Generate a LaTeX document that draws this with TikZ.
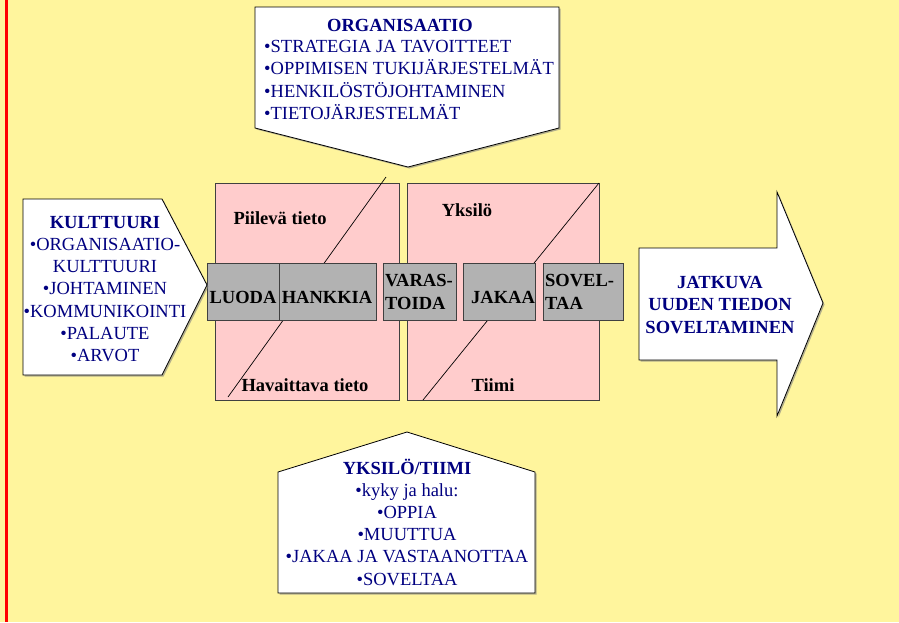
\documentclass[tikz,border=0pt]{standalone}
\usepackage{fontspec}
\setmainfont{Liberation Serif}
\usetikzlibrary{shadows}
\definecolor{bgyellow}{HTML}{FFF59D}
\definecolor{pinkbox}{HTML}{FFCCCC}
\definecolor{greybox}{HTML}{B2B2B2}
\definecolor{navytext}{HTML}{000080}
\definecolor{edgegrey}{HTML}{404040}
\tikzset{
  txt/.style={inner sep=0pt, font=\fontsize{18.5}{22.2}\selectfont},
  navy/.style={txt, text=navytext},
  lbl/.style={txt, text=black, font=\fontsize{18.5}{23}\selectfont\bfseries},
  whiteshape/.style={draw=black, line width=0.8pt, fill=white,
    drop shadow={shadow xshift=1.5pt, shadow yshift=-1.5pt, opacity=0.6, fill=gray}},
  pinkrect/.style={draw=edgegrey, line width=0.8pt, fill=pinkbox},
  greyrect/.style={draw=edgegrey, line width=0.8pt, fill=greybox},
  diag/.style={draw=black, line width=0.7pt}
}
\begin{document}
\begin{tikzpicture}[x=1pt,y=-1pt]
\useasboundingbox (0,0) rectangle (899,622);
\fill[bgyellow] (0,0) rectangle (899,622);
\fill[red] (5,0) rectangle (8,622);

% pink boxes
\draw[pinkrect] (215,183) rectangle (399,400);
\draw[pinkrect] (407,183) rectangle (599,400);
\draw[diag] (228,397) -- (386,177);
\draw[diag] (423,400) -- (599,183);

% labels in pink boxes
\node[lbl] (piil) at (280,218) {Piilevä tieto};
\node[lbl] (hav) at (305,385) {Havaittava tieto};
\node[lbl] (yks) at (467,210) {Yksilö};
\node[lbl] (tiimi) at (493,385) {Tiimi};

% grey boxes
\draw[greyrect] (207,263) rectangle (279,320);
\draw[greyrect] (279,263) rectangle (376,320);
\draw[greyrect] (383,263) rectangle (456,320);
\draw[greyrect] (463,263) rectangle (535,320);
\draw[greyrect] (543,263) rectangle (623,320);
\node[lbl] (luoda) at (243,297) {LUODA};
\node[lbl] (hankkia) at (327,297) {HANKKIA};
\node[lbl, align=left, anchor=west] (varas) at (385,292) {VARAS-\\TOIDA};
\node[lbl] (jakaa) at (503,297) {JAKAA};
\node[lbl, align=left, anchor=west] (sovel) at (545,292) {SOVEL-\\TAA};

% top pentagon (ORGANISAATIO)
\path[whiteshape] (255,7) -- (559,7) -- (559,128) -- (408,167) -- (255,128) -- cycle;
\node[navy, font=\fontsize{18.5}{22.2}\selectfont\bfseries] (org) at (400,25) {ORGANISAATIO};
\node[navy, align=left, anchor=west] (orglist) at (264,80) {•STRATEGIA JA TAVOITTEET\\•OPPIMISEN TUKIJÄRJESTELMÄT\\•HENKILÖSTÖJOHTAMINEN\\•TIETOJÄRJESTELMÄT};

% left pentagon (KULTTUURI)
\path[whiteshape] (23,199) -- (162,199) -- (207,285) -- (162,375) -- (23,375) -- cycle;
\node[navy, align=center] (kult) at (105,289) {\textbf{KULTTUURI}\\•ORGANISAATIO-\\KULTTUURI\\•JOHTAMINEN\\•KOMMUNIKOINTI\\•PALAUTE\\•ARVOT};

% bottom house (YKSILÖ/TIIMI)
\path[whiteshape] (278,472) -- (407,432) -- (535,472) -- (535,593) -- (278,593) -- cycle;
\node[navy, align=center] (ykst) at (407,522) {\textbf{YKSILÖ/TIIMI}\\•kyky ja halu:\\•OPPIA\\•MUUTTUA\\•JAKAA JA VASTAANOTTAA\\•SOVELTAA};

% right arrow
\path[whiteshape] (639,248) -- (777,248) -- (777,192) -- (823,303) -- (777,416) -- (777,360) -- (639,360) -- cycle;
\node[navy, align=center, font=\fontsize{18.5}{22.2}\selectfont\bfseries] (jatk) at (720,305) {JATKUVA\\UUDEN TIEDON\\SOVELTAMINEN};
\end{tikzpicture}
\end{document}
